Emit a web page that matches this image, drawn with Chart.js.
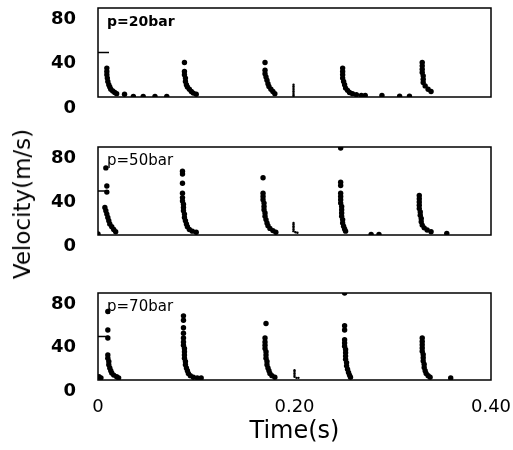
<!DOCTYPE html>
<html>
<head>
<meta charset="utf-8">
<script src="https://cdn.jsdelivr.net/npm/chart.js@4.4.1/dist/chart.umd.min.js"></script>
<style>
  html, body { margin: 0; padding: 0; background: #fff; }
  #wrap { position: relative; width: 513px; height: 450px; overflow: hidden; }
  canvas { position: absolute; left: 0; }
  #ylab {
    position: absolute; left: 22px; top: 204px;
    transform: translate(-50%, -50%) rotate(-90deg);
    font: 23px 'DejaVu Sans', sans-serif; color: #000; white-space: nowrap;
  }
</style>
</head>
<body>
<div id="wrap">
  <canvas id="c20" width="513" height="134" style="top:-12px"></canvas>
  <canvas id="c50" width="513" height="133" style="top:127px"></canvas>
  <canvas id="c70" width="513" height="177" style="top:273px"></canvas>
  <div id="ylab">Velocity(m/s)</div>
</div>
<script>
// ---- data: time (s) / velocity (m/s) ----
const xTicks = [0, 0.2, 0.4];
const yTicks = [0, 40, 80];

// p = 20 bar
const time20 = [0.009,0.009,0.009,0.0095,0.010,0.011,0.012,0.013,0.015,0.017,0.019,0.027,
  0.036,0.046,0.058,0.070,
  0.088,0.088,0.088,0.089,0.089,0.090,0.091,0.093,0.095,0.097,0.100,
  0.170,0.170,0.170,0.171,0.172,0.173,0.174,0.176,0.178,0.180,
  0.249,0.249,0.249,0.249,0.250,0.251,0.252,0.254,0.256,0.259,0.263,0.268,0.272,0.289,0.307,0.317,
  0.330,0.330,0.330,0.330,0.331,0.331,0.331,0.333,0.336,0.339];
const vel20 = [26,23,20,17,14,11,9,7,5.5,4,3,2.5,
  0.6,0.6,0.6,0.6,
  31,23,20,17,14,11,9,7,5,3.5,2.5,
  31,24,21,18,15,12,9.5,7,5,3,
  26,23,20,17,14,11,8,6,4,3,2,1.5,1.5,1.5,0.8,0.8,
  31,28,25,22,19,16,13,10,7,5];
const spikeT20 = [0.199,0.199,0.199,0.199,0.199,0.199,0.199,0.199];
const spikeV20 = [11,9.5,8,6.5,5,3.5,2,1];

// p = 50 bar
const time50 = [0.000,
  0.008,0.009,0.009,
  0.007,0.008,0.009,0.010,0.011,0.012,0.014,0.016,0.018,
  0.086,0.086,0.086,0.086,
  0.086,0.086,0.087,0.087,0.087,0.088,0.088,0.089,0.090,0.091,0.093,0.096,0.100,
  0.168,0.168,0.168,0.168,0.169,0.169,0.169,0.170,0.170,0.171,0.172,0.173,0.175,0.178,0.181,
  0.247,0.247,0.247,0.247,0.247,0.247,0.247,0.248,0.248,0.248,0.248,0.249,0.249,0.250,0.251,0.252,
  0.278,0.286,
  0.327,0.327,0.327,0.327,0.327,0.328,0.328,0.329,0.329,0.330,0.332,0.335,0.339,
  0.355];
const vel50 = [1,
  61,44.5,39,
  25,22,19,16,13,10,7.5,5,3,
  58,55.5,47,38,
  34,31,28,25,22,19,16,13,10,7.5,5,3.5,2.5,
  52,38,35,32,29,26,23,20,17,14,11,8.5,6,4,2.5,
  79,48,45,38,35,32,29,26,23,20,17,14,11,8,5.5,3.5,
  0.6,0.6,
  36,33,30,27,24,21,18,15,12,9,6.5,4.5,3,
  1.5];
const spikeT50 = [0.199,0.199,0.199,0.199,0.199,0.199,0.201,0.203];
const spikeV50 = [11,9.5,8,6.5,5,3.5,2.5,2];

// p = 70 bar
const time70 = [0.001,0.003,
  0.010,0.010,0.010,
  0.010,0.010,0.011,0.011,0.012,0.013,0.014,0.016,0.019,0.021,
  0.087,0.087,0.087,0.087,0.087,
  0.087,0.087,0.088,0.088,0.088,0.088,0.089,0.089,0.090,0.091,0.092,0.094,0.097,0.101,0.105,
  0.171,
  0.170,0.170,0.170,0.170,0.171,0.171,0.171,0.172,0.172,0.173,0.174,0.175,0.177,0.180,
  0.251,0.251,0.251,
  0.251,0.251,0.251,0.252,0.252,0.252,0.252,0.253,0.253,0.254,0.255,0.256,0.257,
  0.330,0.330,0.330,0.330,0.330,0.331,0.331,0.331,0.332,0.332,0.333,0.334,0.336,0.338,
  0.359];
const vel70 = [3,2,
  63,46,38.6,
  23,20,17,14,11,8.5,6.5,4.5,3,2,
  59,55,48,43,38.6,
  35,32,29,26,23,20,17,14,11,8.5,6,4,2.5,2,1.8,
  52,
  38.6,35,32,29,26,23,20,17,14,11,8.5,6,4,2.5,
  80,50,46,
  37,34,31,28,25,22,19,16,13,10,7,4.5,2.5,
  38.6,35.5,32.5,29.5,26.5,23.5,20.5,17.5,14.5,11.5,8.5,6,4,2.5,
  1.8];
const spikeT70 = [0.200,0.200,0.200,0.200,0.200,0.202,0.204];
const spikeV70 = [9,7.5,6,4.5,3,2,2];

// ---- style ----
Chart.defaults.font.family = "'DejaVu Sans', sans-serif";
Chart.defaults.color = '#000';
Chart.defaults.animation = false;

const toPoints = (ts, vs) => ts.map((t, i) => ({ x: t, y: vs[i] }));

// box around the plot, short tick at 40, panel label
const framePlugin = {
  id: 'frame',
  afterDraw(chart, args, opts) {
    const { ctx, chartArea: a, scales: { y } } = chart;
    ctx.save();
    ctx.strokeStyle = '#000';
    ctx.lineWidth = 1.5;
    ctx.strokeRect(a.left, a.top, a.right - a.left, a.bottom - a.top);
    const py = y.getPixelForValue(40);
    ctx.beginPath();
    ctx.moveTo(a.left, py);
    ctx.lineTo(a.left + 11, py);
    ctx.stroke();
    ctx.fillStyle = '#000';
    ctx.font = opts.font;
    ctx.textBaseline = 'alphabetic';
    ctx.fillText(opts.label, a.left + 9, a.top + 18);
    ctx.restore();
  }
};

// invisible tick marks are used as spacing between the labels and the box
const hiddenGrid = len => ({
  display: true, drawOnChartArea: false, drawTicks: true,
  tickLength: len, tickColor: 'rgba(0,0,0,0)', color: 'rgba(0,0,0,0)'
});

function makePanel(id, ts, vs, sts, svs, label, labelFont, showX) {
  new Chart(document.getElementById(id), {
    type: 'scatter',
    data: {
      datasets: [
        { data: toPoints(ts, vs), backgroundColor: '#000', borderWidth: 0, pointRadius: 2.7 },
        { data: toPoints(sts, svs), backgroundColor: '#000', borderWidth: 0, pointRadius: 1.2 }
      ]
    },
    options: {
      responsive: false,
      layout: { padding: { top: 20, right: 22, bottom: showX ? 0 : 25, left: 0 } },
      plugins: {
        legend: { display: false },
        tooltip: { enabled: false },
        frame: { label: label, font: labelFont }
      },
      scales: {
        x: {
          type: 'linear', min: 0, max: 0.4,
          display: showX,
          afterBuildTicks: s => { s.ticks = xTicks.map(v => ({ value: v })); },
          afterFit: s => { if (showX) s.height = 70; },
          grid: hiddenGrid(17),
          border: { display: false },
          ticks: {
            padding: 0,
            font: { size: 18 },
            callback: v => v === 0 ? '0' : v.toFixed(2)
          },
          title: { display: true, text: 'Time(s)', font: { size: 24 }, padding: { top: 0, bottom: 4 } }
        },
        y: {
          min: 0, max: 80,
          afterBuildTicks: s => { s.ticks = yTicks.map(v => ({ value: v })); },
          afterFit: s => { s.width = 98; },
          grid: hiddenGrid(22),
          border: { display: false },
          ticks: { padding: 0, labelOffset: 11, font: { size: 18, weight: 'bold' } }
        }
      }
    },
    plugins: [framePlugin]
  });
}

makePanel('c20', time20, vel20, spikeT20, spikeV20, 'p=20bar', "bold 14px 'DejaVu Sans'", false);
makePanel('c50', time50, vel50, spikeT50, spikeV50, 'p=50bar', "15px 'DejaVu Sans'", false);
makePanel('c70', time70, vel70, spikeT70, spikeV70, 'p=70bar', "15px 'DejaVu Sans'", true);
</script>
</body>
</html>
